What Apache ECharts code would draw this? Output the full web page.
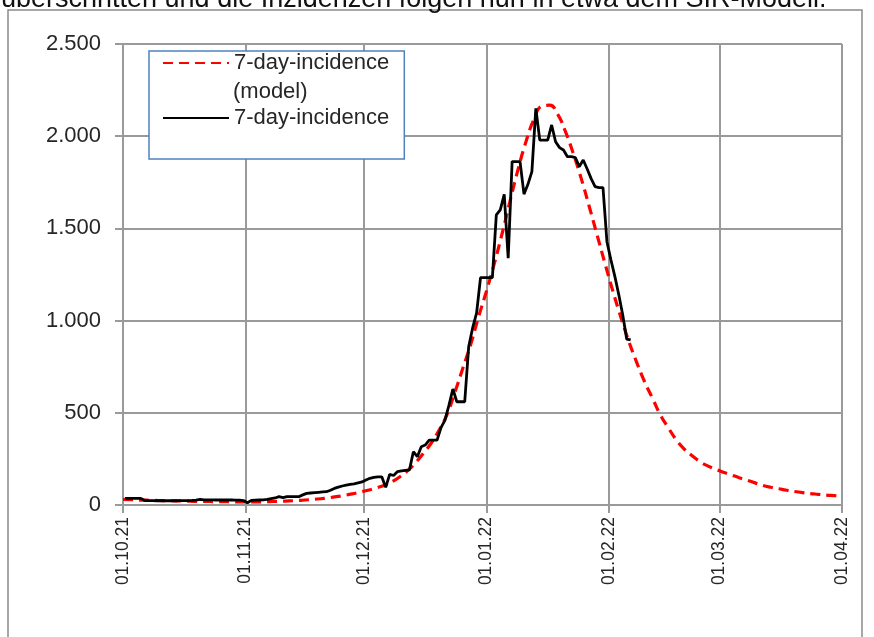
<!DOCTYPE html>
<html>
<head>
<meta charset="utf-8">
<script src="https://cdn.jsdelivr.net/npm/echarts@6/dist/echarts.min.js"></script>
<style>
  html, body { margin: 0; padding: 0; background: #fff; }
  #chart { width: 874px; height: 637px; }
</style>
</head>
<body>
<div id="chart"></div>
<script>
// reported 7-day-incidence, one value per day starting 01.10.21
var incidence = [
  36, 36, 36, 36, 36, 24, 24, 24, 23, 23,
  23, 23, 23, 23, 24, 24, 24, 25, 27, 31,
  28, 28, 28, 27, 27, 27, 27, 27, 26, 26,
  24, 12, 25, 26, 27, 28, 30, 34, 38, 45,
  40, 45, 45, 45, 45, 55, 63, 65, 67, 69,
  71, 72, 80, 90, 97, 103, 108, 112, 115, 120,
  125, 136, 145, 150, 153, 153, 96, 166, 160, 181,
  185, 188, 190, 289, 262, 316, 325, 352, 352, 352,
  420, 460, 540, 629, 560, 560, 560, 858, 960, 1040,
  1233, 1233, 1233, 1233, 1573, 1600, 1685, 1338, 1862, 1862,
  1862, 1686, 1739, 1808, 2151, 1979, 1979, 1979, 2061, 1970,
  1938, 1925, 1889, 1889, 1884, 1835, 1871, 1822, 1770, 1726,
  1721, 1721, 1428, 1330, 1240, 1140, 1030, 900, 895
];

// model curve, one value every 2 days starting 01.10.21
var modelStepDays = 2;
var model = [
  30, 29, 27, 26, 25, 24, 23, 22, 21, 20,
  20, 19, 18, 18, 17, 17, 17, 17, 18, 19,
  20, 22, 24, 27, 30, 34, 39, 45, 52, 60,
  70, 80, 92, 106, 125, 152, 185, 228, 280, 335,
  405, 490, 610, 740, 870, 1020, 1160, 1310, 1475, 1650,
  1820, 1970, 2090, 2162, 2168, 2120, 2025, 1905, 1770, 1620,
  1465, 1310, 1160, 1020, 890, 775, 670, 580, 490, 420,
  355, 305, 268, 236, 212, 194, 178, 163, 148, 134,
  120, 106, 96, 88, 80, 73, 67, 62, 58, 54,
  51, 48
];

var seriesNames = ['7-day-incidence (model)', '7-day-incidence'];
var yTicks = [0, 500, 1000, 1500, 2000, 2500];

var myChart = echarts.init(document.getElementById('chart'));

function day(n, hour) {
  return new Date(2021, 9, 1 + n, hour || 0).getTime();
}

// the reported values sit in the middle of their day
var incidenceData = incidence.map(function (v, i) { return [day(i, 12), v]; });
var modelData = model.map(function (v, i) { return [day(i * modelStepDays), v]; });

function pad(n) { return n < 10 ? '0' + n : '' + n; }
function germanNumber(v) {
  return String(v).replace(/\B(?=(\d{3})+(?!\d))/g, '.');
}

var gridColor = '#9a9a9a';

var option = {
  animation: false,
  backgroundColor: '#fff',
  textStyle: { fontFamily: 'Liberation Sans' },
  grid: { left: 123, right: 32, top: 44, bottom: 132 },
  legend: {
    orient: 'vertical',
    left: 149,
    top: 51,
    data: seriesNames,
    itemWidth: 66,
    itemHeight: 14,
    itemGap: 33,
    padding: [1, 15, 30, 13],
    borderColor: '#4f81bd',
    borderWidth: 1.5,
    backgroundColor: '#fff',
    itemStyle: { opacity: 0 },
    formatter: function (name) {
      return name === seriesNames[0] ? '7-day-incidence' : name;
    },
    textStyle: { fontSize: 22, lineHeight: 22, color: '#262626', fontFamily: 'Liberation Sans' }
  },
  graphic: [
    {
      type: 'rect',
      shape: { x: 8, y: 10, width: 854, height: 660 },
      style: { fill: 'none', stroke: '#8a8a8a', lineWidth: 1.5 },
      silent: true
    },
    {
      type: 'text',
      left: 1,
      top: -14,
      style: {
        text: 'überschritten und die Inzidenzen folgen nun in etwa dem SIR-Modell.',
        fontSize: 27,
        fontFamily: 'Liberation Sans',
        fill: '#111'
      }
    },
    {
      type: 'text',
      left: 233,
      top: 81,
      z: 10,
      style: {
        text: '(model)',
        fontSize: 22,
        fontFamily: 'Liberation Sans',
        fill: '#262626'
      }
    }
  ],
  xAxis: {
    type: 'time',
    min: day(0),
    max: new Date(2022, 3, 1).getTime(),
    splitNumber: 6,
    axisLine: { lineStyle: { color: gridColor, width: 2 } },
    axisTick: { show: true, length: 8, lineStyle: { color: gridColor, width: 2 } },
    splitLine: { show: true, lineStyle: { color: gridColor, width: 2 } },
    axisLabel: {
      rotate: 90,
      margin: 12,
      fontSize: 17.5,
      color: '#262626',
      fontFamily: 'Liberation Sans',
      formatter: function (value) {
        var d = new Date(value);
        return pad(d.getDate()) + '.' + pad(d.getMonth() + 1) + '.' + pad(d.getFullYear() % 100);
      }
    }
  },
  yAxis: {
    type: 'value',
    min: yTicks[0],
    max: yTicks[yTicks.length - 1],
    interval: yTicks[1] - yTicks[0],
    axisLine: { show: true, lineStyle: { color: gridColor, width: 2 } },
    axisTick: { show: true, length: 8, lineStyle: { color: gridColor, width: 2 } },
    splitLine: { show: true, lineStyle: { color: gridColor, width: 2 } },
    axisLabel: {
      margin: 22,
      fontSize: 22,
      color: '#262626',
      fontFamily: 'Liberation Sans',
      formatter: germanNumber
    }
  },
  series: [
    {
      name: seriesNames[0],
      type: 'line',
      data: modelData,
      symbol: 'none',
      smooth: true,
      lineStyle: { color: '#ff0000', width: 3.2, type: [10, 6] },
      itemStyle: { color: '#ff0000' },
      z: 2
    },
    {
      name: seriesNames[1],
      type: 'line',
      data: incidenceData,
      symbol: 'none',
      lineStyle: { color: '#000', width: 2.8 },
      itemStyle: { color: '#000' },
      z: 3
    }
  ]
};

myChart.setOption(option);
</script>
</body>
</html>
